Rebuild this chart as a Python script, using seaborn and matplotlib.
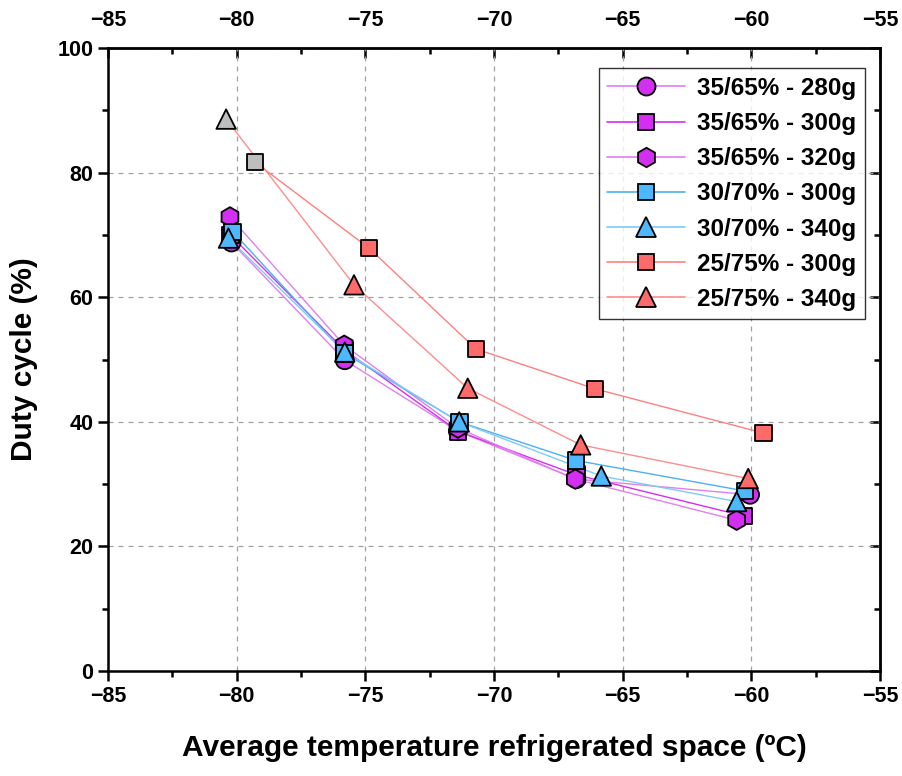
import numpy as np
import pandas as pd
import matplotlib
matplotlib.use("Agg")
import matplotlib.pyplot as plt
from matplotlib.lines import Line2D
import seaborn as sns

# ---- data ----
labels = ["35/65% - 280g", "35/65% - 300g", "35/65% - 320g",
          "30/70% - 300g", "30/70% - 340g", "25/75% - 300g", "25/75% - 340g"]

t_280_3565 = [-80.2, -75.8, -71.4, -66.8, -60.05]
d_280_3565 = [68.8, 49.9, 38.5, 30.8, 28.3]
t_300_3565 = [-80.25, -75.8, -71.4, -66.8, -60.3]
d_300_3565 = [70.0, 51.5, 38.5, 31.5, 24.9]
t_320_3565 = [-80.26, -75.82, -71.4, -66.84, -60.57]
d_320_3565 = [72.9, 52.3, 39.0, 30.8, 24.2]
t_300_3070 = [-80.15, -75.8, -71.35, -66.81, -60.24]
d_300_3070 = [70.5, 51.0, 40.0, 33.8, 28.9]
t_340_3070 = [-80.32, -75.8, -71.35, -65.83, -60.57]
d_340_3070 = [69.5, 51.2, 40.0, 31.3, 27.2]
t_300_2575 = [-79.29, -74.86, -70.70, -66.07, -59.53]
d_300_2575 = [81.7, 67.9, 51.7, 45.3, 38.2]
t_340_2575 = [-80.41, -75.44, -71.02, -66.63, -60.12]
d_340_2575 = [88.6, 62.0, 45.4, 36.3, 30.9]

x_ticks = [-85, -80, -75, -70, -65, -60, -55]
y_ticks = [0, 20, 40, 60, 80, 100]

temps = [t_280_3565, t_300_3565, t_320_3565, t_300_3070, t_340_3070, t_300_2575, t_340_2575]
duties = [d_280_3565, d_300_3565, d_320_3565, d_300_3070, d_340_3070, d_300_2575, d_340_2575]
markers = ["o", "s", "h", "s", "^", "s", "^"]
msizes = [13, 12, 14, 12, 14, 12, 14]
fills = ["#D42EF2", "#D42EF2", "#D42EF2", "#4DB8FF", "#4DB8FF", "#FF6B6B", "#FF6B6B"]
lcols = ["#E07FF0", "#D42EF2", "#E07FF0", "#4DB0F0", "#7CCBF7", "#FF7F7F", "#FF8C8C"]
gray_first = [False, False, False, False, False, True, True]

# ---- style ----
sns.set_style("white")
plt.rcParams["font.family"] = ["Liberation Sans", "DejaVu Sans"]
plt.rcParams["font.weight"] = "bold"
plt.rcParams["axes.labelweight"] = "bold"
plt.rcParams["text.color"] = "black"
plt.rcParams["axes.labelcolor"] = "black"
plt.rcParams["xtick.color"] = "black"
plt.rcParams["ytick.color"] = "black"

tick_fs = 15.5
lab_fs = 21.5
leg_fs = 17.5

fig = plt.figure(figsize=(9.03, 7.76), dpi=100)
ax = fig.add_axes([0.1196, 0.1353, 0.8549, 0.8027])

for i in range(len(labels)):
    df = pd.DataFrame({"t": temps[i], "d": duties[i]})
    sns.lineplot(data=df, x="t", y="d", ax=ax, sort=False, color=lcols[i],
                 linewidth=1.0, zorder=2 + i)
    pcols = [fills[i]] * len(df)
    if gray_first[i]:
        pcols[0] = "#BEBEBE"
    ax.scatter(df["t"], df["d"], marker=markers[i], s=msizes[i] ** 2,
               c=pcols, edgecolors="black", linewidths=1.3, zorder=10 + i)


def fmt(v):
    return str(v).replace("-", "\u2212")


xt_labels = [fmt(v) for v in x_ticks]
yt_labels = [fmt(v) for v in y_ticks]

ax.set_xlim(-85, -55)
ax.set_ylim(0, 100)
ax.set_xticks(x_ticks, labels=xt_labels, fontweight="bold", fontsize=tick_fs)
ax.set_xticks(np.arange(-82.5, -55, 5), minor=True)
ax.set_yticks(y_ticks, labels=yt_labels, fontweight="bold", fontsize=tick_fs)
ax.set_yticks(np.arange(10, 100, 20), minor=True)
ax.grid(True, which="major", linestyle=(0, (4, 4)), color="#A0A0A0", linewidth=0.9)

for s in ax.spines.values():
    s.set_visible(True)
    s.set_color("black")
    s.set_linewidth(1.8)

ax.tick_params(axis="both", which="major", direction="out", length=7, width=1.8,
               colors="black", bottom=True, left=True)
ax.tick_params(axis="both", which="minor", direction="out", length=4, width=1.8,
               bottom=True, left=True)

secx = ax.secondary_xaxis("top")
secx.set_xticks(x_ticks, labels=xt_labels, fontweight="bold", fontsize=tick_fs)
secx.set_xticks(np.arange(-82.5, -55, 5), minor=True)
secx.tick_params(which="major", direction="in", length=7, width=1.8, pad=12,
                 colors="black")
secx.tick_params(which="minor", direction="in", length=4, width=1.8)
secx.spines["top"].set_linewidth(1.8)

secy = ax.secondary_yaxis("right")
secy.set_yticks(y_ticks)
secy.set_yticks(np.arange(10, 100, 20), minor=True)
secy.tick_params(which="major", direction="in", length=7, width=1.8, labelright=False)
secy.tick_params(which="minor", direction="in", length=4, width=1.8)
secy.spines["right"].set_linewidth(1.8)

ax.set_xlabel("Average temperature refrigerated space (ºC)", fontsize=lab_fs,
              fontweight="bold", labelpad=20)
ax.set_ylabel("Duty cycle (%)", fontsize=lab_fs, fontweight="bold", labelpad=14)

handles = []
for i in range(len(labels)):
    handles.append(Line2D([0], [0], color=lcols[i], linewidth=1.2, marker=markers[i],
                          markersize=msizes[i], markerfacecolor=fills[i],
                          markeredgecolor="black", markeredgewidth=1.3))
leg = ax.legend(handles, labels, loc="upper right", bbox_to_anchor=(0.99, 0.979),
                fontsize=leg_fs, frameon=True, fancybox=False, edgecolor="black",
                handlelength=3.2, labelspacing=0.5, borderpad=0.35,
                handletextpad=0.5, borderaxespad=0.3)
leg.get_frame().set_linewidth(1.0)
for txt in leg.get_texts():
    txt.set_fontweight("bold")

fig.savefig("out.png", dpi=100)
